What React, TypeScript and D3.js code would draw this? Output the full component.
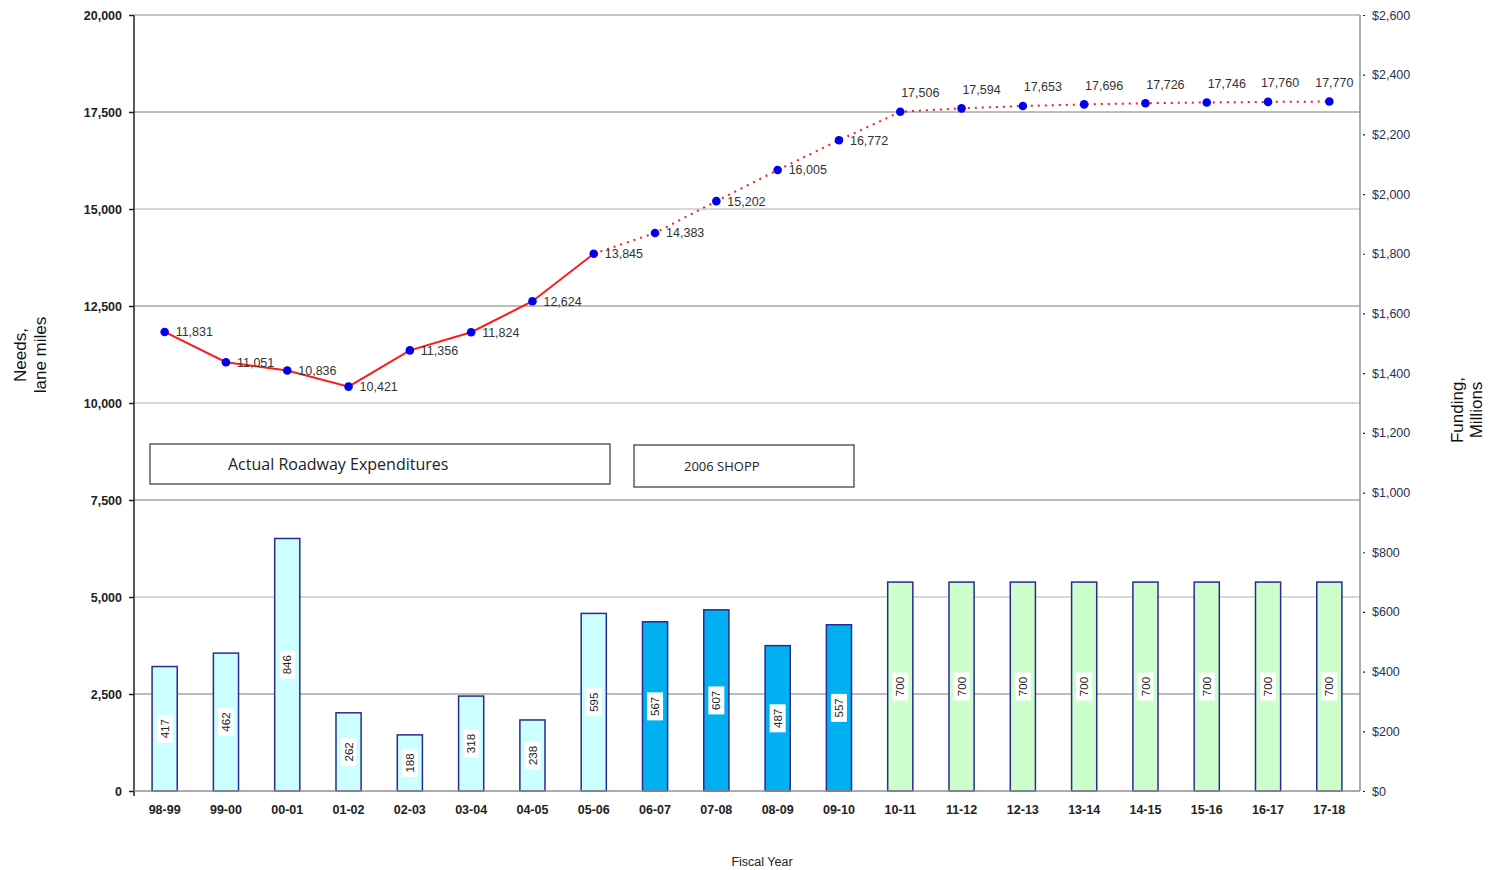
import React, { useEffect, useRef } from 'react';
import * as d3 from 'd3';

const years = ['98-99', '99-00', '00-01', '01-02', '02-03', '03-04', '04-05', '05-06', '06-07', '07-08',
  '08-09', '09-10', '10-11', '11-12', '12-13', '13-14', '14-15', '15-16', '16-17', '17-18'];
const needs = [11831, 11051, 10836, 10421, 11356, 11824, 12624, 13845, 14383, 15202,
  16005, 16772, 17506, 17594, 17653, 17696, 17726, 17746, 17760, 17770];
const funding = [417, 462, 846, 262, 188, 318, 238, 595, 567, 607,
  487, 557, 700, 700, 700, 700, 700, 700, 700, 700];
// 0 = actual (light cyan), 1 = actual (blue), 2 = 2006 SHOPP (green)
const fundingGroup = [0, 0, 0, 0, 0, 0, 0, 0, 1, 1, 1, 1, 2, 2, 2, 2, 2, 2, 2, 2];
const lastActual = 7; // solid line ends at 05-06
const needsTicks = [0, 2500, 5000, 7500, 10000, 12500, 15000, 17500, 20000];
const fundingTicks = [0, 200, 400, 600, 800, 1000, 1200, 1400, 1600, 1800, 2000, 2200, 2400, 2600];

const barFill = ['#ccffff', '#00b0f0', '#ccffcc'];
const font = '"Liberation Sans", Arial, sans-serif';

export default function App() {
  const svgRef = useRef<SVGSVGElement>(null);

  useEffect(() => {
    if (!svgRef.current) return;
    const svg = d3.select(svgRef.current);
    svg.selectAll('*').remove();

    const left = 134, right = 1360, top = 15, bottom = 791;

    const x = d3.scaleBand<string>().domain(years).range([left, right]).paddingInner(0.59).paddingOuter(0.295);
    const yL = d3.scaleLinear().domain([0, 20000]).range([bottom, top]);
    const yR = d3.scaleLinear().domain([0, 2600]).range([bottom, top]);
    const cx = (i: number) => (x(years[i]) as number) + x.bandwidth() / 2;

    // gridlines
    svg.append('g')
      .selectAll('line')
      .data(needsTicks.filter(t => t > 0))
      .enter()
      .append('line')
      .attr('x1', left)
      .attr('x2', right)
      .attr('y1', d => yL(d))
      .attr('y2', d => yL(d))
      .attr('stroke', (d, i) => (i % 2 === 0 ? '#7a7a7a' : '#b0b0b0'))
      .attr('stroke-width', 1);

    // bars
    svg.append('g')
      .selectAll('rect')
      .data(funding)
      .enter()
      .append('rect')
      .attr('x', (d, i) => x(years[i]) as number)
      .attr('y', d => yR(d))
      .attr('width', x.bandwidth())
      .attr('height', d => bottom - yR(d))
      .attr('fill', (d, i) => barFill[fundingGroup[i]])
      .attr('stroke', '#2a2a90')
      .attr('stroke-width', 1.5);

    // bar labels
    funding.forEach((v, i) => {
      const yc = (yR(v) + bottom) / 2;
      const lg = svg.append('g').attr('transform', `translate(${cx(i)},${yc}) rotate(-90)`);
      lg.append('rect')
        .attr('x', -14)
        .attr('y', -8)
        .attr('width', 28)
        .attr('height', 16)
        .attr('fill', '#fff');
      lg.append('text')
        .attr('text-anchor', 'middle')
        .attr('dy', '0.36em')
        .attr('font-family', font)
        .attr('font-size', 11.5)
        .attr('fill', '#222')
        .text(v);
    });

    // left axis
    svg.append('g')
      .attr('transform', `translate(${left},0)`)
      .call(d3.axisLeft(yL).tickValues(needsTicks).tickSize(5).tickFormat(d3.format(',') as any))
      .call((g: any) => g.select('.domain').attr('stroke', '#222').attr('stroke-width', 1.5).attr('d', `M0,${top}V${bottom + 5}`))
      .call((g: any) => g.selectAll('line').attr('stroke', '#222').attr('stroke-width', 1.5))
      .call((g: any) => g.selectAll('text').attr('font-family', font).attr('font-size', 12.5).attr('font-weight', 'bold').attr('fill', '#222').attr('x', -12));

    // top line at 20,000
    svg.append('line')
      .attr('x1', left).attr('x2', right)
      .attr('y1', yL(20000)).attr('y2', yL(20000))
      .attr('stroke', '#b0b0b0');

    // right axis
    svg.append('g')
      .attr('transform', `translate(${right},0)`)
      .call(d3.axisRight(yR).tickValues(fundingTicks).tickSize(5).tickFormat(d3.format('$,') as any))
      .call((g: any) => g.select('.domain').attr('stroke', '#909090').attr('stroke-width', 1.5).attr('d', `M0,${top}V${bottom}`))
      .call((g: any) => g.selectAll('line').attr('stroke', '#222').attr('stroke-width', 1.2).attr('x1', 3))
      .call((g: any) => g.selectAll('text').attr('font-family', font).attr('font-size', 12.5).attr('fill', '#2e2e50').attr('x', 12));

    // bottom axis
    svg.append('line')
      .attr('x1', left).attr('x2', right)
      .attr('y1', bottom).attr('y2', bottom)
      .attr('stroke', '#909090').attr('stroke-width', 1.5);

    svg.append('g')
      .selectAll('text')
      .data(years)
      .enter()
      .append('text')
      .attr('x', (d, i) => cx(i))
      .attr('y', 814)
      .attr('text-anchor', 'middle')
      .attr('font-family', font)
      .attr('font-size', 12.5)
      .attr('font-weight', 'bold')
      .attr('fill', '#222')
      .text(d => d);

    // needs line
    const line = d3.line<number>()
      .x((d, i) => cx(i))
      .y(d => yL(d));

    svg.append('path')
      .attr('d', line(needs.slice(0, lastActual + 1)) as string)
      .attr('fill', 'none')
      .attr('stroke', '#ff1a1a')
      .attr('stroke-width', 2);

    const dottedLine = d3.line<number>()
      .x((d, i) => cx(i + lastActual))
      .y(d => yL(d));
    svg.append('path')
      .attr('d', dottedLine(needs.slice(lastActual)) as string)
      .attr('fill', 'none')
      .attr('stroke', '#ff1a1a')
      .attr('stroke-width', 2)
      .attr('stroke-dasharray', '2,5');

    svg.append('g')
      .selectAll('circle')
      .data(needs)
      .enter()
      .append('circle')
      .attr('cx', (d, i) => cx(i))
      .attr('cy', d => yL(d))
      .attr('r', 4.3)
      .attr('fill', '#0000ee');

    // label offsets above the flat tail of the line
    const tailDx = (i: number) => (i === 19 ? 5 : i === 18 ? 12 : 20);

    svg.append('g')
      .selectAll('text')
      .data(needs)
      .enter()
      .append('text')
      .attr('x', (d, i) => (i >= 12 ? cx(i) + tailDx(i) : cx(i) + 11))
      .attr('y', (d, i) => (i >= 12 ? yL(d) - 19 : yL(d)))
      .attr('dy', '0.35em')
      .attr('text-anchor', (d, i) => (i >= 12 ? 'middle' : 'start'))
      .attr('font-family', font)
      .attr('font-size', 12.5)
      .attr('fill', '#333')
      .text(d => d3.format(',')(d));

    // annotation boxes
    const boxes = [
      { label: 'Actual Roadway Expenditures', x: 150, y: 444, w: 460, h: 40, tx: 228, size: 16 },
      { label: '2006 SHOPP', x: 634, y: 445, w: 220, h: 42, tx: 684, size: 13 },
    ];
    boxes.forEach(b => {
      svg.append('rect')
        .attr('x', b.x).attr('y', b.y).attr('width', b.w).attr('height', b.h)
        .attr('fill', '#fff').attr('stroke', '#444').attr('stroke-width', 1.3);
      svg.append('text')
        .attr('x', b.tx).attr('y', b.y + b.h / 2)
        .attr('dy', '0.35em')
        .attr('font-family', '"Open Sans", Lato, sans-serif')
        .attr('font-size', b.size)
        .attr('fill', '#222')
        .text(b.label);
    });

    // axis titles
    const needsTitle = svg.append('text')
      .attr('transform', 'translate(31,355) rotate(-90)')
      .attr('text-anchor', 'middle')
      .attr('font-family', font)
      .attr('font-size', 17)
      .attr('fill', '#111');
    needsTitle.append('tspan').attr('x', 0).attr('dy', -5).text('Needs,');
    needsTitle.append('tspan').attr('x', 0).attr('dy', 20).text('lane miles');

    const fundTitle = svg.append('text')
      .attr('transform', 'translate(1467,410) rotate(-90)')
      .attr('text-anchor', 'middle')
      .attr('font-family', font)
      .attr('font-size', 17)
      .attr('fill', '#111');
    fundTitle.append('tspan').attr('x', 0).attr('dy', -4).text('Funding,');
    fundTitle.append('tspan').attr('x', 0).attr('dy', 19).text('Millions');

    svg.append('text')
      .attr('x', 762)
      .attr('y', 866)
      .attr('text-anchor', 'middle')
      .attr('font-family', font)
      .attr('font-size', 12.5)
      .attr('fill', '#222')
      .text('Fiscal Year');
  }, []);

  return (
    <svg
      ref={svgRef}
      width={1495}
      height={870}
      style={{ position: 'absolute', left: 0, top: 0, display: 'block', background: '#fff' }}
    />
  );
}
